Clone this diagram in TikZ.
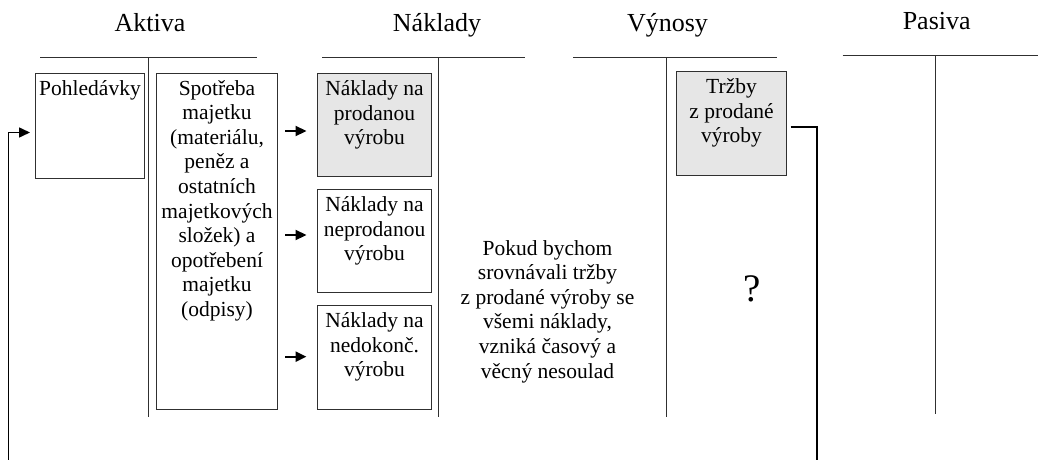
\documentclass[tikz,border=0pt]{standalone}
\usepackage{fontspec}
\setmainfont{Liberation Serif}
\usetikzlibrary{arrows.meta}
\definecolor{boxgray}{HTML}{E6E6E6}
\definecolor{linegray}{HTML}{303030}
% text of an account item: fixed-size box, lines centred and set from the top
\newcommand\itemtext[3]{\parbox[c][#2][t]{#1}{\centering\rule{0pt}{22pt}#3}}
\begin{document}
\begin{tikzpicture}[x=1pt,y=-1pt,
  bodyfont/.style={font=\fontsize{21.5}{24.6}\selectfont},
  account/.style={draw=linegray,line width=1.3pt},
  acct title/.style={font=\fontsize{26}{30}\selectfont,anchor=base,inner sep=0pt},
  itembox/.style={draw=linegray,line width=1pt,inner sep=0pt,anchor=north west,bodyfont},
  solditem/.style={itembox,fill=boxgray},
  flow/.style={line width=2.2pt,-{Triangle[length=11pt,width=10pt]}},
  loop/.style={line width=1.6pt,-{Triangle[length=11pt,width=10pt]}}]
\useasboundingbox (0,0) rectangle (1038,460);
\clip (0,0) rectangle (1038,460);

% account headings
\node[acct title] (aktiva)  at (150,32)   {Aktiva};
\node[acct title] (naklady) at (437,32)   {Náklady};
\node[acct title] (vynosy)  at (667.5,32) {Výnosy};
\node[acct title] (pasiva)  at (936.7,30) {Pasiva};

% T-accounts
\draw[account] (40,57.3) -- (257,57.3) (148.3,57.3) -- (148.3,417);
\draw[account] (322,57.3) -- (525,57.3) (438.3,57.3) -- (438.3,417);
\draw[account] (573,57.3) -- (777,57.3) (666.7,57.3) -- (666.7,417);
\draw[account] (842.7,55.5) -- (1038,55.5) (935.7,55.5) -- (935.7,414);

% items
\node[itembox] (pohl) at (35,73) {\itemtext{109pt}{105pt}{Pohledávky}};
\node[itembox] (spotreba) at (156,72.5) {\itemtext{121pt}{336.5pt}{Spotřeba\\majetku\\(materiálu,\\peněz a\\ostatních\\majetkových\\složek) a\\opotřebení\\majetku\\(odpisy)}};
\node[solditem] (nprod) at (317,73) {\itemtext{114pt}{103pt}{Náklady na\\prodanou\\výrobu}};
\node[itembox] (nneprod) at (317,189) {\itemtext{114pt}{103pt}{Náklady na\\neprodanou\\výrobu}};
\node[itembox] (nnedok) at (317,305) {\itemtext{114pt}{104pt}{Náklady na\\nedokonč.\\výrobu}};
\node[solditem] (trzby) at (676,71) {\itemtext{110pt}{104pt}{Tržby\\z prodané\\výroby}};

% note and question mark
\node[bodyfont,anchor=base,inner sep=0pt] (note) at (547.5,255)
  {\parbox[t]{220pt}{\centering Pokud bychom\\srovnávali tržby\\z prodané výroby se\\všemi náklady,\\vzniká časový a\\věcný nesoulad}};
\node[font=\fontsize{39}{44}\selectfont,anchor=base,inner sep=0pt] (q) at (751.7,301.7) {?};

% costs flowing into the cost account
\coordinate (f1) at (285,131);
\coordinate (f2) at (285,235);
\coordinate (f3) at (285,356.7);
\draw[flow] (f1) -- ++(21.5,0);
\draw[flow] (f2) -- ++(21.5,0);
\draw[flow] (f3) -- ++(21.5,0);

% revenue turning into receivables
\draw[loop] ([xshift=3.5pt,yshift=-3.5pt]trzby.east) -| (816.7,475) -- (8.5,475)
  |- ([xshift=-5pt,yshift=-6.5pt]pohl.west);
\end{tikzpicture}
\end{document}
